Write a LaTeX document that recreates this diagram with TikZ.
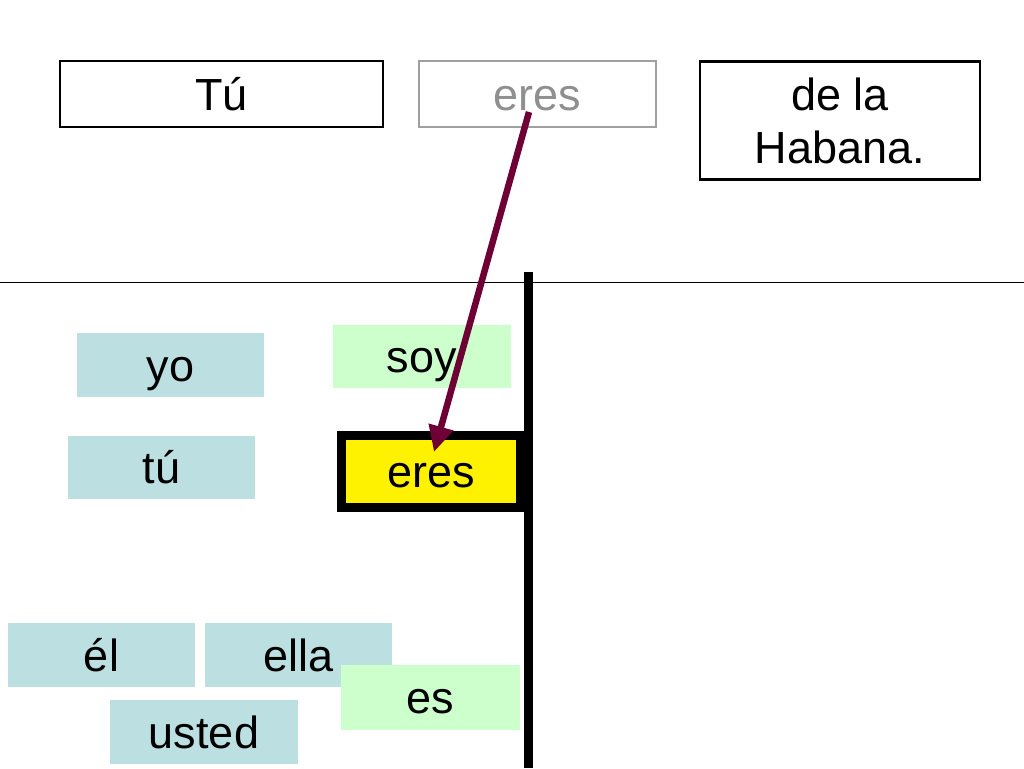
\documentclass[tikz,border=0pt]{standalone}
\usepackage{fontspec}
\setmainfont{Liberation Sans}
\usetikzlibrary{arrows.meta}
\definecolor{pblue}{HTML}{BCDFE2}
\definecolor{pgreen}{HTML}{CCFFCC}
\definecolor{arrowred}{HTML}{6E0036}
\definecolor{gtext}{HTML}{8F8F8F}
\begin{document}
\begin{tikzpicture}[x=1pt,y=-1pt,
  word/.style={font=\fontsize{45}{53}\selectfont, text height=32pt, text depth=0pt, inner sep=0pt, outer sep=0pt},
  topbox/.style={word, draw=black, line width=2.5pt},
  pron/.style={word, fill=pblue},
  verbbox/.style={word, fill=pgreen}]
\useasboundingbox (0,0) rectangle (1024,768);
\fill[white] (0,0) rectangle (1024,768);
% top row
\node[topbox, minimum width=323pt, minimum height=66pt] (tu) at (221.5,94) {Tú};
\node[topbox, draw=gtext!85, text=gtext, minimum width=237pt, minimum height=66pt] (eresg) at (537.5,94) {eres};
\node[draw=black, line width=2.5pt, inner sep=0pt, align=center, font=\fontsize{45}{53}\selectfont, minimum width=280pt, minimum height=118pt] (hab) at (840,120.5) {de la\\Habana.};
% dividers
\coordinate (hl) at (0,282);
\coordinate (hr) at (1024,282);
\draw[line width=1pt] (hl) -- (hr);
\coordinate (vt) at (528.5,272);
\coordinate (vb) at (528.5,768);
\draw[line width=9pt] (vt) -- (vb);
% pronouns and verbs
\node[pron, minimum width=187pt, minimum height=64pt] (yo) at (170.5,365) {yo};
\node[verbbox, minimum width=178pt, minimum height=63pt] (soy) at (422,356.5) {soy};
\node[pron, minimum width=187pt, minimum height=63pt] (tus) at (161.5,467.5) {tú};
\node[word, fill=yellow, draw=black, line width=9pt, minimum width=179pt, minimum height=72pt] (eresy) at (431,471.5) {eres};
\node[pron, minimum width=187pt, minimum height=64pt] (el) at (101.5,655) {él};
\node[pron, minimum width=187pt, minimum height=64pt] (ella) at (298.5,655) {ella};
\node[verbbox, minimum width=179pt, minimum height=65pt] (es) at (430.5,697.5) {es};
\node[pron, minimum width=188pt, minimum height=64pt] (usted) at (204,732) {usted};
% arrow
\coordinate (as) at (529,112);
\coordinate (ae) at (434,452);
\draw[arrowred, line width=6.5pt, -{Triangle[length=26pt,width=24pt]}] (as) -- (ae);
\end{tikzpicture}
\end{document}
